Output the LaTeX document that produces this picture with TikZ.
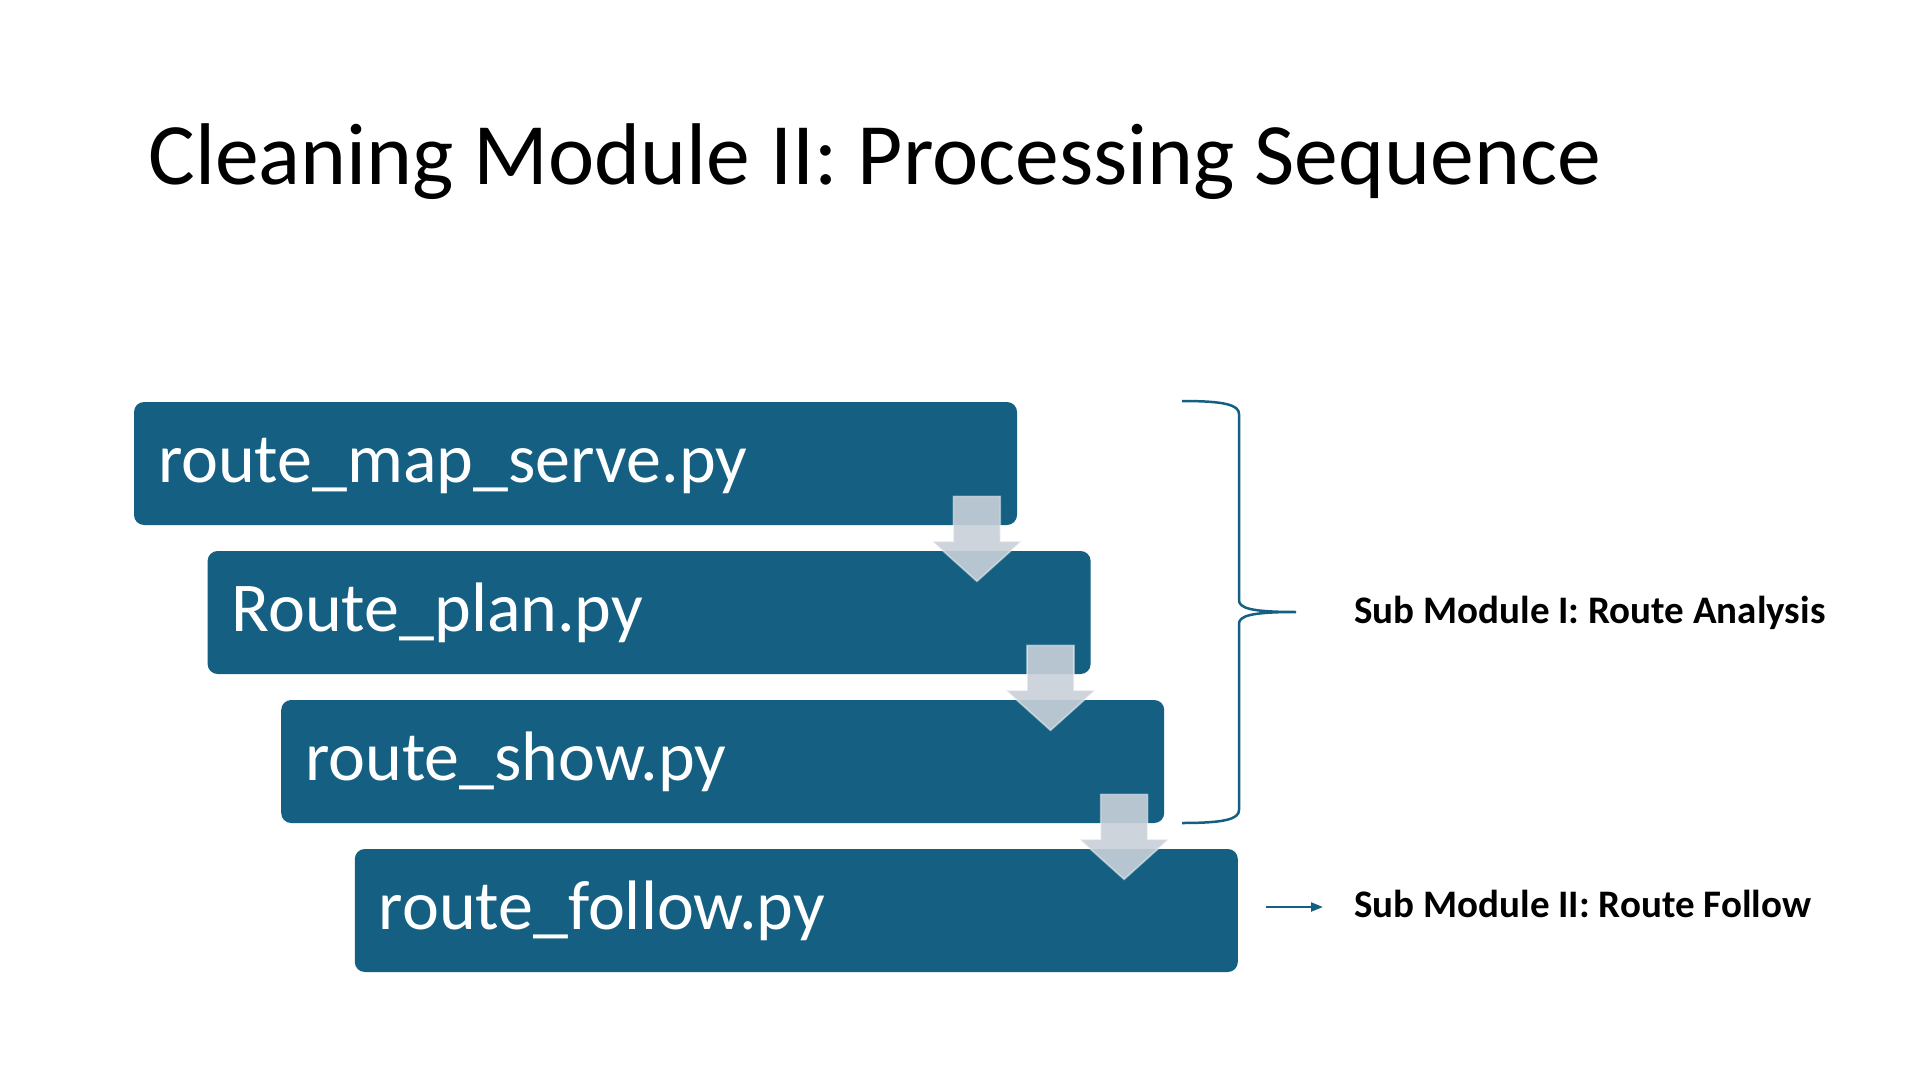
\documentclass[tikz,border=0pt]{standalone}
\usepackage{fontspec}
\setmainfont{Carlito}
\usetikzlibrary{calc}
\usetikzlibrary{positioning}
\usetikzlibrary{arrows.meta}
\definecolor{stepblue}{HTML}{156082}
\definecolor{steparrow}{HTML}{C9D0D9}

\begin{document}
\begin{tikzpicture}[x=0.5pt,y=-0.5pt,node distance=2cm,on grid]
			\tikzset{stepbox/.style={fill=stepblue,draw=none,rounded corners=5pt,minimum width=441.5pt,minimum height=61.5pt,text width=417.5pt,align=left,inner xsep=12pt,inner ysep=0pt,text height=25pt,text depth=6.5pt,text=white,font=\fontsize{35}{42}\selectfont}}
			\tikzset{sublabel/.style={inner sep=0pt,anchor=base west,font=\bfseries\fontsize{19.5}{23}\selectfont}}
			\tikzset{brace/.style={draw=stepblue,line width=1.25pt}}
			\tikzset{downarrow/.pic={\path[fill=steparrow,fill opacity=0.9,draw=white,draw opacity=0.45,line width=0.8pt] (-23.5,-29) -- (23.5,-29) -- (23.5,16) -- (44.5,16) -- (0,56) -- (-44.5,16) -- (-23.5,16) -- cycle;}}
			\useasboundingbox[fill=white] (0,0) rectangle (1920,1080);
			% Place Nodes
			\node[anchor=base west,inner sep=0pt,font=\fontsize{43.8}{52}\selectfont] (title) at (148,185) {Cleaning Module II: Processing Sequence};
			\node[stepbox] (S1) at (575.5,463.5) {route\_map\_serve.py};
			\node[stepbox] (S2) [below right=74.5pt and 36.8pt of S1] {Route\_plan.py};
			\node[stepbox] (S3) [below right=74.5pt and 36.8pt of S2] {route\_show.py};
			\node[stepbox] (S4) [below right=74.5pt and 36.8pt of S3] {route\_follow.py};
			% Step arrows
			\foreach \s in {S1,S2,S3}
			\pic at ($(\s.south east)+(-40.5,0)$) {downarrow};
			% Brace and sub modules
			\coordinate (tip) at (1296,612);
			\draw[brace] (1182,401) .. controls (1225,401) and (1239,405) .. (1239,414) -- (1239,600) .. controls (1239,608) and (1250,612) .. (tip) .. controls (1250,612) and (1239,616) .. (1239,624) -- (1239,810) .. controls (1239,819) and (1225,823) .. (1182,823);
			\node[sublabel] (sub1) at (1354,623) {Sub Module I: Route Analysis};
			\node[sublabel] (sub2) at (1354,917) {Sub Module II: Route Follow};
			\coordinate (follow) at (1266,907);
			\draw[stepblue,line width=1.1pt,-{Triangle[length=6pt,width=4.5pt]}] (follow) -- ($(follow -| sub2.west)+(-31,0)$);
			\end{tikzpicture}
\end{document}
